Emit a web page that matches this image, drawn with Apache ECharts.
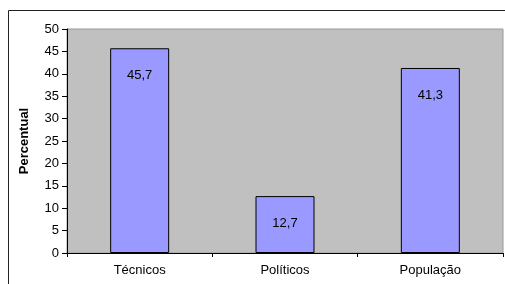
<!DOCTYPE html>
<html>
<head>
<meta charset="utf-8">
<script src="https://cdn.jsdelivr.net/npm/echarts@6/dist/echarts.min.js"></script>
<style>
  html, body { margin: 0; padding: 0; background: #fff; }
  #chart { width: 505px; height: 284px; }
</style>
</head>
<body>
<div id="chart"></div>
<script>
// dados do gráfico
const categorias = ['Técnicos', 'Políticos', 'População']
const valores = [45.7, 12.7, 41.3]
const yMin = 0
const yMax = 50
const yStep = 5

const chart = echarts.init(document.getElementById('chart'))
const fonte = 'Liberation Sans, Arial, sans-serif'

const option = {
  animation: false,
  // moldura externa (cortada à direita e embaixo)
  graphic: [
    {
      type: 'rect',
      shape: { x: 8.5, y: 10.5, width: 520, height: 300 },
      style: { fill: 'none', stroke: '#222', lineWidth: 1 },
      silent: true
    }
  ],
  grid: {
    left: 67,
    right: 2,
    top: 29,
    bottom: 31,
    show: true,
    backgroundColor: '#C0C0C0',
    borderColor: '#9a9a9a',
    borderWidth: 1
  },
  xAxis: {
    type: 'category',
    data: categorias,
    axisLine: { lineStyle: { color: '#000', width: 1 } },
    axisTick: { show: true, length: 4, alignWithLabel: false, lineStyle: { color: '#000' } },
    axisLabel: { color: '#000', fontFamily: fonte, fontSize: 13, margin: 11 }
  },
  yAxis: {
    type: 'value',
    min: yMin,
    max: yMax,
    interval: yStep,
    name: 'Percentual',
    nameLocation: 'middle',
    nameGap: 36,
    nameRotate: 90,
    nameTextStyle: { color: '#000', fontFamily: fonte, fontSize: 13, fontWeight: 'bold' },
    axisLine: { show: true, lineStyle: { color: '#000', width: 1 } },
    axisTick: { show: true, length: 5, lineStyle: { color: '#000' } },
    axisLabel: { color: '#000', fontFamily: fonte, fontSize: 13, margin: 8 },
    splitLine: { show: false }
  },
  series: [
    {
      type: 'bar',
      data: valores,
      barWidth: 59,
      itemStyle: { color: '#9999FF', borderColor: '#000', borderWidth: 1 },
      label: {
        show: true,
        position: 'insideTop',
        distance: 21,
        color: '#000',
        fontFamily: fonte,
        fontSize: 13,
        formatter: p => String(p.value).replace('.', ',')
      }
    }
  ]
}

chart.setOption(option)
</script>
</body>
</html>
